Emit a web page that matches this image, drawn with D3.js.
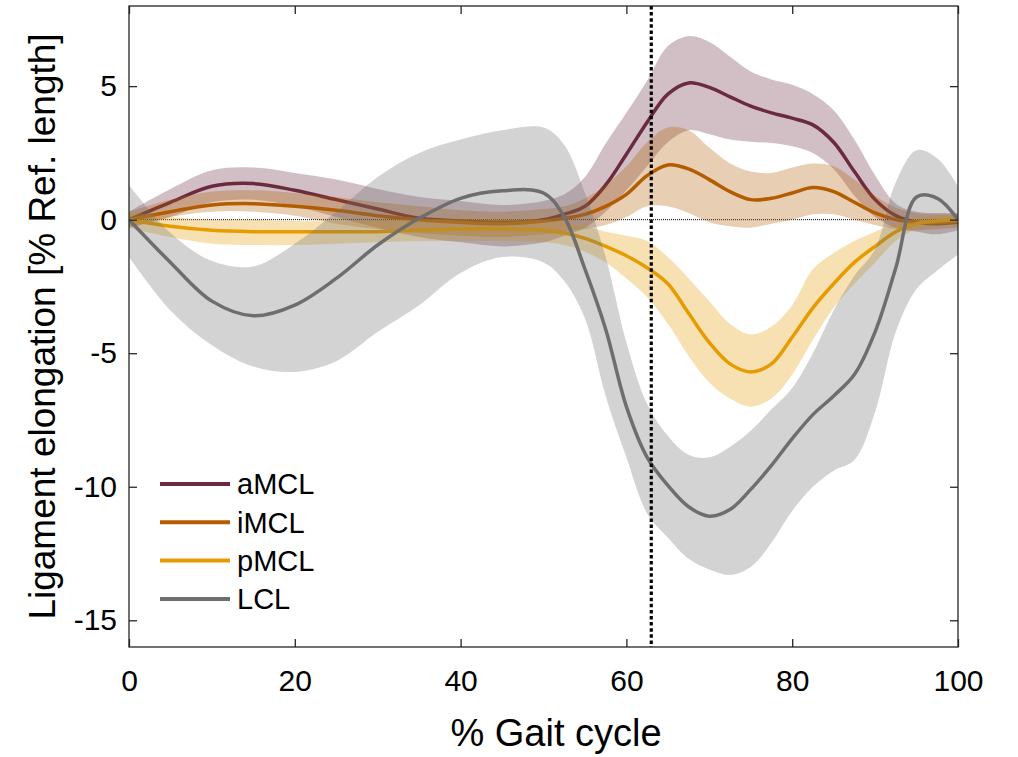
<!DOCTYPE html>
<html>
<head>
<meta charset="utf-8">
<script src="https://cdn.jsdelivr.net/npm/d3@7"></script>
<style>
  body { margin: 0; background: #fff; }
  text { font-family: 'Liberation Sans', Arial, sans-serif; fill: #000; }
</style>
</head>
<body>
<svg id="chart"></svg>
<script>
let width = 1018
let height = 757

// gait cycle sample points (%)
const gait = [0, 5, 10, 15, 20, 25, 30, 35, 40, 45, 50, 52.5, 55, 57.5, 60, 62.5, 65, 67.5, 70, 72.5,
  75, 77.5, 80, 82.5, 85, 87.5, 90, 92.5, 95, 97.5, 100]

// mean elongation + band limits [% ref. length]
const aMCLMean = [0, 0.65, 1.25, 1.35, 1.1, 0.75, 0.4, 0.05, -0.05, -0.1, 0.0, 0.2, 0.5, 1.3, 2.45, 3.65, 4.7, 5.12, 4.95, 4.6,
  4.25, 4.0, 3.8, 3.55, 2.9, 1.8, 0.75, 0.15, -0.1, -0.15, -0.1]
const aMCLHi = [0.3, 1.15, 1.85, 1.95, 1.75, 1.5, 1.15, 0.85, 0.7, 0.55, 0.7, 0.95, 1.6, 2.85, 4.0, 5.2, 6.5, 6.87, 6.65, 6.1,
  5.55, 5.25, 5.05, 4.7, 4.1, 3.0, 1.65, 0.6, 0.3, 0.25, 0.25]
const aMCLLo = [-0.3, 0.1, 0.65, 0.75, 0.5, 0.1, -0.3, -0.65, -0.85, -1.0, -0.85, -0.6, -0.3, 0.3, 1.1, 2.0, 2.9, 3.35, 3.2, 3.0,
  2.92, 2.87, 2.75, 2.5, 1.9, 0.9, 0.1, -0.3, -0.45, -0.55, -0.4]

const iMCLMean = [0, 0.3, 0.55, 0.6, 0.5, 0.35, 0.15, 0.0, -0.1, -0.15, -0.05, 0.05, 0.2, 0.5, 0.95, 1.65, 2.05, 1.9, 1.5, 1.05,
  0.75, 0.8, 1.0, 1.2, 1.05, 0.65, 0.25, 0.0, -0.1, -0.1, -0.05]
const iMCLHi = [0.3, 0.75, 1.05, 1.1, 1.0, 0.85, 0.65, 0.5, 0.35, 0.3, 0.4, 0.5, 0.8, 1.3, 2.0, 2.9, 3.45, 3.35, 2.7, 2.1,
  1.8, 1.75, 1.95, 2.1, 2.0, 1.5, 0.9, 0.45, 0.25, 0.2, 0.2]
const iMCLLo = [-0.3, 0.1, 0.3, 0.3, 0.15, -0.15, -0.35, -0.5, -0.6, -0.65, -0.55, -0.45, -0.35, -0.2, 0.1, 0.5, 0.5, 0.25, -0.1, -0.25,
  -0.3, -0.15, 0.0, 0.2, 0.2, 0.0, -0.2, -0.35, -0.4, -0.35, -0.3]

const pMCLMean = [0, -0.25, -0.4, -0.45, -0.45, -0.45, -0.45, -0.4, -0.35, -0.35, -0.4, -0.5, -0.7, -1.0, -1.35, -1.8, -2.4, -3.5, -4.6, -5.4,
  -5.7, -5.4, -4.4, -3.3, -2.4, -1.6, -1.0, -0.45, -0.15, -0.05, 0.0]
const pMCLHi = [0.3, 0.1, 0.0, 0.0, -0.05, -0.05, 0.0, 0.0, 0.05, 0.05, 0.0, -0.1, -0.25, -0.45, -0.6, -0.8, -1.4, -2.2, -3.05, -3.9,
  -4.3, -4.0, -3.2, -1.85, -1.25, -0.8, -0.45, -0.15, 0.05, 0.15, 0.2]
const pMCLLo = [-0.3, -0.65, -0.9, -0.95, -0.95, -0.9, -0.85, -0.8, -0.8, -0.8, -0.85, -0.95, -1.2, -1.6, -2.2, -2.9, -3.9, -5.1, -6.1, -6.7,
  -7.0, -6.7, -5.8, -4.5, -3.3, -2.4, -1.6, -0.8, -0.35, -0.25, -0.2]

const LCLMean = [0, -1.6, -3.05, -3.6, -3.2, -2.2, -0.95, 0.05, 0.8, 1.08, 1.0, 0.1, -1.85, -4.1, -7.0, -8.9, -9.95, -10.75, -11.1, -10.85,
  -10.1, -9.2, -8.2, -7.3, -6.6, -5.8, -4.2, -1.8, 0.85, 0.8, 0.0]
const LCLHi = [1.3, -0.5, -1.55, -1.75, -0.9, 0.3, 1.6, 2.5, 3.0, 3.35, 3.45, 2.8, 1.0, -1.4, -4.6, -6.9, -8.1, -8.8, -8.9, -8.5,
  -7.9, -7.1, -6.3, -5.0, -3.4, -2.1, -1.1, 1.4, 2.6, 2.3, 1.25]
const LCLLo = [-1.4, -3.4, -4.7, -5.5, -5.7, -5.3, -4.2, -3.2, -2.0, -1.4, -1.6, -2.3, -3.7, -6.6, -8.9, -11.0, -11.9, -12.7, -13.1, -13.3,
  -13.0, -12.1, -10.9, -10.0, -9.4, -9.0, -7.2, -4.2, -2.6, -1.9, -1.3]

const ligaments = ['aMCL', 'iMCL', 'pMCL', 'LCL']
const ligColors = ['#6b2a3e', '#b35c00', '#e69b00', '#6e6e6e']
const xTicks = [0, 20, 40, 60, 80, 100]
const yTicks = [-15, -10, -5, 0, 5]
const toeOff = 63

const series = [
  { name: 'aMCL', mean: aMCLMean, hi: aMCLHi, lo: aMCLLo },
  { name: 'iMCL', mean: iMCLMean, hi: iMCLHi, lo: iMCLLo },
  { name: 'pMCL', mean: pMCLMean, hi: pMCLHi, lo: pMCLLo },
  { name: 'LCL', mean: LCLMean, hi: LCLHi, lo: LCLLo },
]

const margin = { top: 6, right: 60, bottom: 110, left: 129 }

const svg = d3.select('#chart').attr('width', width).attr('height', height)

const x = d3.scaleLinear().domain([0, 100]).range([margin.left, width - margin.right])
const y = d3.scaleLinear().domain([-16, 8]).range([height - margin.bottom, margin.top])

const color = d3.scaleOrdinal().domain(ligaments).range(ligColors)

svg.append('clipPath').attr('id', 'plotClip')
  .append('rect')
  .attr('x', x(0)).attr('y', y(8))
  .attr('width', x(100) - x(0)).attr('height', y(-16) - y(8))

const plot = svg.append('g').attr('clip-path', 'url(#plotClip)')

const area = d3.area()
  .x((d) => x(d.g))
  .y0((d) => y(d.lo))
  .y1((d) => y(d.hi))
  .curve(d3.curveCatmullRom.alpha(0.5))

const line = d3.line()
  .x((d) => x(d.g))
  .y((d) => y(d.m))
  .curve(d3.curveCatmullRom.alpha(0.5))

// zero reference
plot.append('line')
  .attr('x1', x(0)).attr('x2', x(100))
  .attr('y1', y(0)).attr('y2', y(0))
  .attr('stroke', '#000')
  .attr('stroke-width', 1)
  .attr('stroke-dasharray', '1,1')

// band then mean line for each ligament
series.forEach((s) => {
  const pts = gait.map((g, i) => ({ g: g, m: s.mean[i], hi: s.hi[i], lo: s.lo[i] }))
  plot.append('path')
    .datum(pts)
    .attr('d', area)
    .attr('fill', color(s.name))
    .attr('fill-opacity', 0.3)
  plot.append('path')
    .datum(pts)
    .attr('d', line)
    .attr('fill', 'none')
    .attr('stroke', color(s.name))
    .attr('stroke-width', 3.5)
})

// toe-off marker
svg.append('line')
  .attr('x1', x(toeOff)).attr('x2', x(toeOff))
  .attr('y1', y(8)).attr('y2', y(-16))
  .attr('stroke', '#000')
  .attr('stroke-width', 3.2)
  .attr('stroke-dasharray', '3.5,2.6')

// axes
const axisColor = '#262626'
const fmt = (d) => String(d) // plain hyphen minus like the original
const gx = svg.append('g')
  .attr('transform', `translate(0,${y(-16)})`)
  .call(d3.axisBottom(x).tickValues(xTicks).tickFormat(fmt).tickSizeInner(-8).tickSizeOuter(0))
const gxTop = svg.append('g')
  .attr('transform', `translate(0,${y(8)})`)
  .call(d3.axisTop(x).tickValues(xTicks).tickSizeInner(-8).tickSizeOuter(0).tickFormat(''))
const gy = svg.append('g')
  .attr('transform', `translate(${x(0)},0)`)
  .call(d3.axisLeft(y).tickValues(yTicks).tickFormat(fmt).tickSizeInner(-8).tickSizeOuter(0).tickPadding(12))
const gyRight = svg.append('g')
  .attr('transform', `translate(${x(100)},0)`)
  .call(d3.axisRight(y).tickValues(yTicks).tickSizeInner(-8).tickSizeOuter(0).tickFormat(''))

;[gx, gxTop, gy, gyRight].forEach((g) => {
  g.select('.domain').remove()
  g.selectAll('.tick line').attr('stroke', axisColor).attr('stroke-width', 1.3)
  g.selectAll('.tick text').attr('font-size', 30).attr('fill', '#262626')
    .attr('font-family', "'Liberation Sans', Arial, sans-serif")
})
gx.selectAll('.tick text').attr('y', 23).attr('dy', '0.71em')

svg.append('rect')
  .attr('x', x(0)).attr('y', y(8))
  .attr('width', x(100) - x(0)).attr('height', y(-16) - y(8))
  .attr('fill', 'none')
  .attr('stroke', axisColor)
  .attr('stroke-width', 1.3)

// axis titles
svg.append('text')
  .attr('x', 556)
  .attr('y', 746)
  .attr('text-anchor', 'middle')
  .attr('font-size', 38)
  .text('% Gait cycle')

svg.append('text')
  .attr('transform', `translate(55,${(y(8) + y(-16)) / 2}) rotate(-90)`)
  .attr('text-anchor', 'middle')
  .attr('font-size', 37)
  .text('Ligament elongation [% Ref. length]')

// legend
const legend = svg.append('g')
  .selectAll('g')
  .data(ligaments)
  .join('g')
  .attr('transform', (d, i) => `translate(160,${484 + i * 38.3})`)

legend.append('line')
  .attr('x1', 0).attr('x2', 70)
  .attr('stroke', (d) => color(d))
  .attr('stroke-width', 4)

legend.append('text')
  .attr('x', 77)
  .attr('dy', '0.36em')
  .attr('font-size', 29)
  .text((d) => d)
</script>
</body>
</html>
